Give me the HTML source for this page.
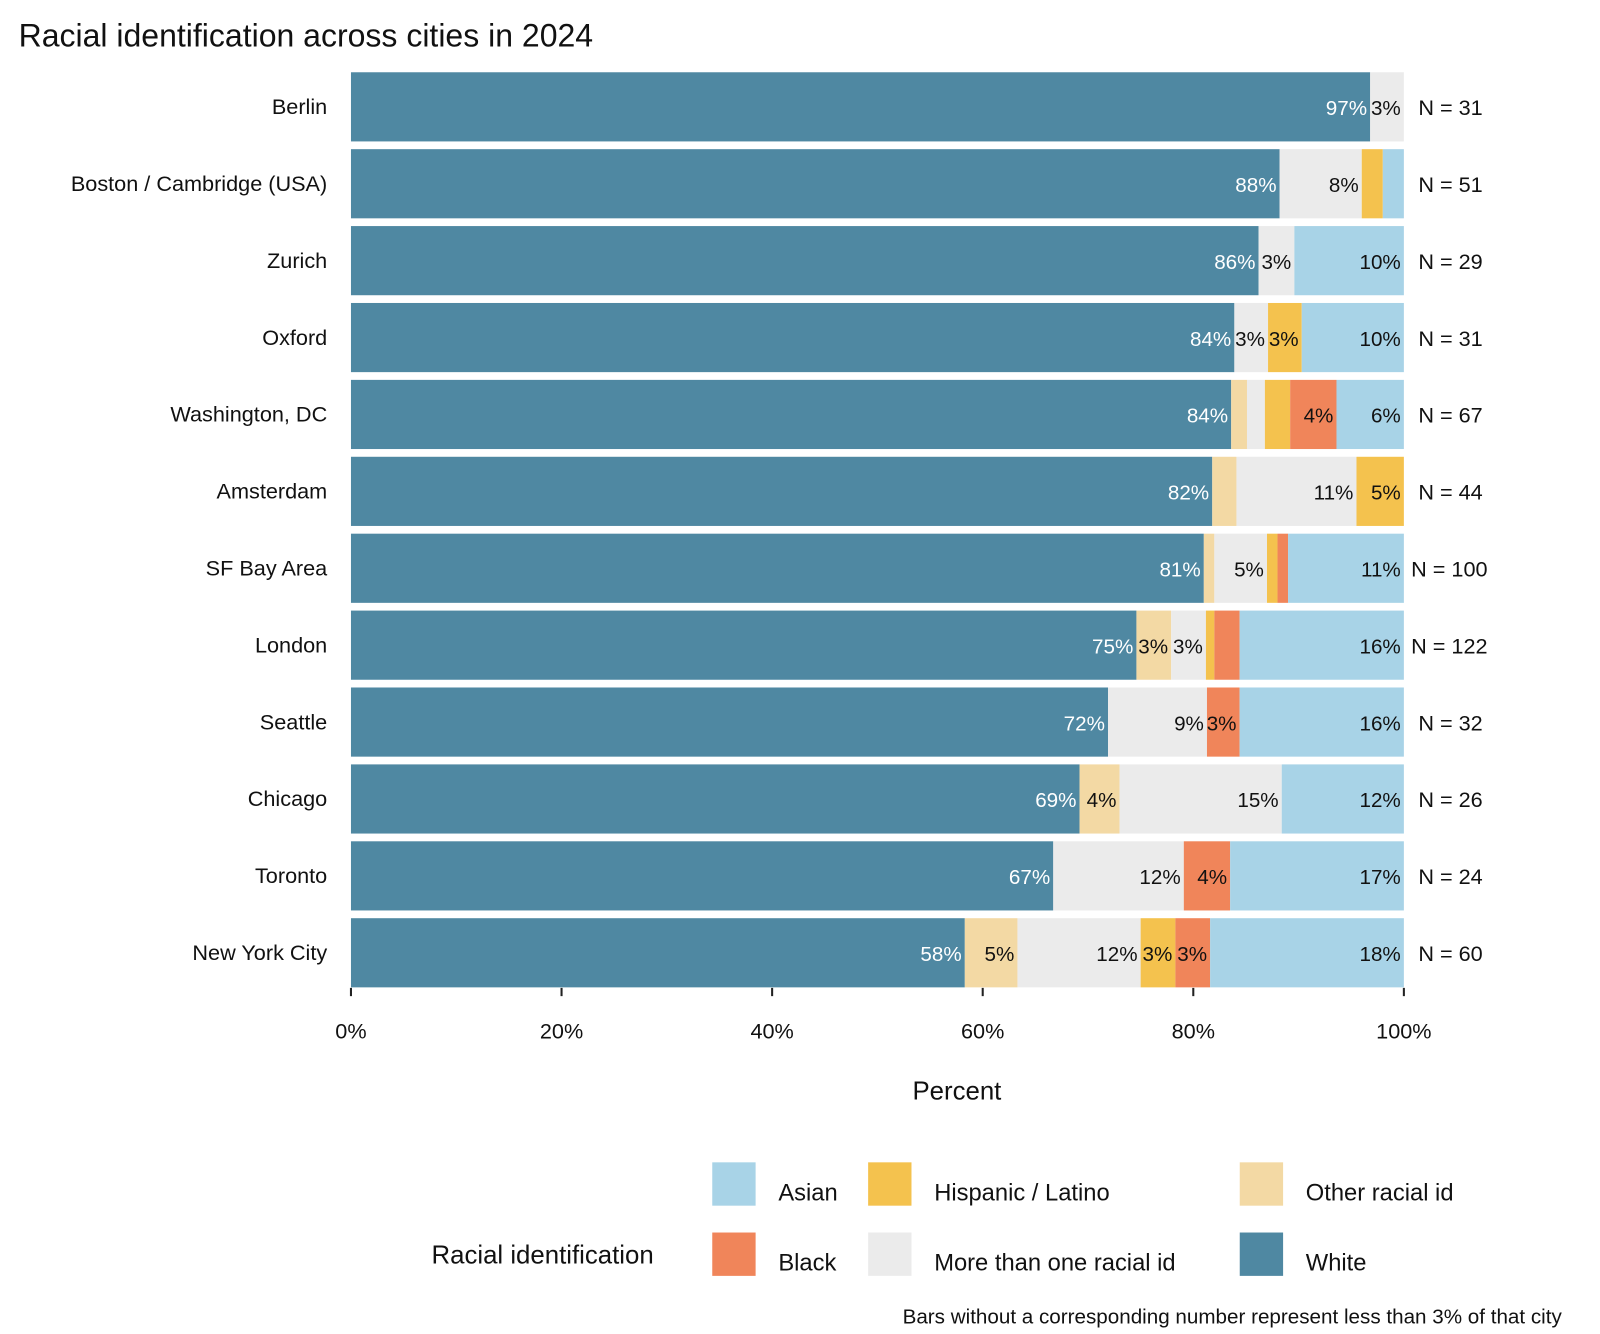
<!DOCTYPE html>
<html><head><meta charset="utf-8"><style>
html,body{margin:0;padding:0;background:#fff;}
svg{display:block;font-family:"Liberation Sans",sans-serif;}
</style></head><body>
<svg id="chart" width="1600" height="1334" viewBox="0 0 1550 1292.3">
<text x="18" y="45" font-size="31" fill="#111">Racial identification across cities in 2024</text>
<g id="bars"></g>
<g id="axis"></g>
<text x="927" y="1065" font-size="25" text-anchor="middle" fill="#111">Percent</text>
<g id="legend"></g>
<text x="1513" y="1282" font-size="20" text-anchor="end" fill="#111">Bars without a corresponding number represent less than 3% of that city</text>
</svg>
<script>
const cities = ["Berlin","Boston / Cambridge (USA)","Zurich","Oxford","Washington, DC","Amsterdam","SF Bay Area","London","Seattle","Chicago","Toronto","New York City"];
const nValues = [31,51,29,31,67,44,100,122,32,26,24,60];
const seriesNames = ["White","Other racial id","More than one racial id","Hispanic / Latino","Black","Asian"];
const white    = [96.8,88.2,86.2,83.9,83.6,81.8,81.0,74.6,71.9,69.2,66.7,58.3];
const other    = [0,0,0,0,1.5,2.3,1.0,3.3,0,3.8,0,5.0];
const multiple = [3.2,7.8,3.4,3.2,1.7,11.4,5.0,3.3,9.4,15.4,12.4,11.7];
const hispanic = [0,2.0,0,3.2,2.4,4.5,1.0,0.8,0,0,0,3.3];
const black    = [0,0,0,0,4.4,0,1.0,2.4,3.1,0,4.4,3.3];
const asian    = [0,2.0,10.4,9.7,6.4,0,11.0,15.6,15.6,11.6,16.5,18.4];
const xTicks = [0,20,40,60,80,100];
const colors = ["#4f88a2","#f3d9a4","#ebebeb","#f4c24e","#f0855a","#a8d3e7"];
const series = [white,other,multiple,hispanic,black,asian];

const NS="http://www.w3.org/2000/svg";
const X0=340,X1=1360,TOP=70,STEP=74.5,BH=67;
const xs=v=>X0+(X1-X0)*v/100;
const ys=i=>TOP+i*STEP;
function mk(tag,attrs,parent,text){const e=document.createElementNS(NS,tag);for(const k in attrs)e.setAttribute(k,attrs[k]);if(text!==undefined)e.textContent=text;parent.appendChild(e);return e;}
const bars=document.getElementById('bars');
cities.forEach((c,i)=>{
  const y=ys(i);
  const lab=mk('text',{x:317,y:y+BH/2+7,'font-size':21,'text-anchor':'end',fill:'#111'},bars,c);
  
  
  let acc=0;
  series.forEach((s,k)=>{
    const v=s[i];
    if(v>0){
      const r=mk('rect',{x:xs(acc),y:y,width:xs(acc+v)-xs(acc),height:BH,fill:colors[k]},bars);
      
      
      if(Math.round(v)>=3){
        const t=mk('text',{x:xs(acc+v)-3,y:y+BH/2+8,'font-size':20,'text-anchor':'end',fill:k===0?'#fff':'#111'},bars,Math.round(v)+'%');
        
        
      }
    }
    acc+=v;
  });
  const n=mk('text',{x:nValues[i]>=100?1367:1374,y:y+BH/2+8,'font-size':21,fill:'#111'},bars,'N = '+nValues[i]);
  
  
});
const axis=document.getElementById('axis');
xTicks.forEach(t=>{
  const l=mk('line',{x1:xs(t),x2:xs(t),y1:957,y2:965,stroke:'#222','stroke-width':2},axis);
  
  
  const tx=mk('text',{x:xs(t),y:1006,'font-size':21,'text-anchor':'middle',fill:'#111'},axis,t+'%');
  
  
});
const lg=document.getElementById('legend');
const lt=mk('text',{x:418,y:1224,'font-size':25,fill:'#111'},lg,'Racial identification');


const legendItems=[["Asian",5,690,1126],["Hispanic / Latino",3,841,1126],["Other racial id",1,1201,1126],["Black",4,690,1194],["More than one racial id",2,841,1194],["White",0,1201,1194]];
legendItems.forEach(([name,k,x,y])=>{
  const g=mk('g',{},lg);
  
  
  mk('rect',{x:x,y:y,width:42,height:42,fill:colors[k]},g);
  mk('text',{x:x+64,y:y+37,'font-size':23,fill:'#111'},g,name);
});
</script>
</body></html>
